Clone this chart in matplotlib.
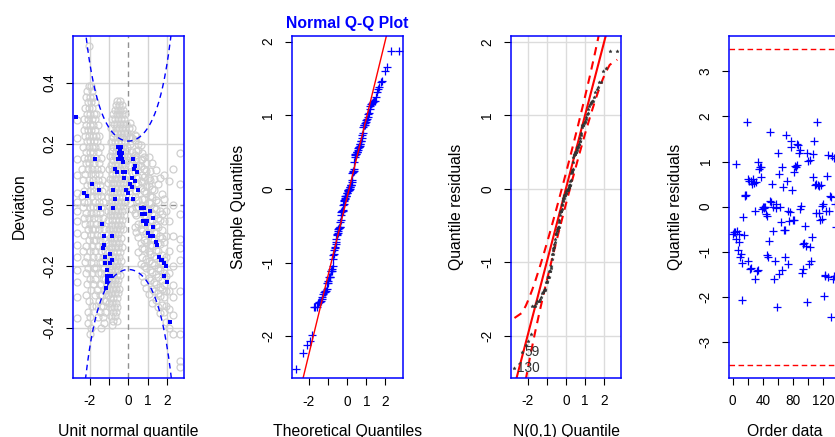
import matplotlib
matplotlib.use('Agg')
import matplotlib.pyplot as plt
import numpy as np
from statistics import NormalDist

plt.rcParams['font.family'] = ['Liberation Sans', 'DejaVu Sans']
plt.rcParams['axes.unicode_minus'] = False

W, H = 835, 437
TICK_FS = 9.8
LAB_FS = 11.3

residuals = [
    -0.60, -0.57, -0.55, 0.95, -0.72, -0.53, -0.95, -0.61, -0.79, -1.12,
    -1.05, -2.07, -1.25, -0.22, -0.62, 0.23, 0.25, 0.27, 1.87, -1.20,
    0.61, 0.57, -1.38, 0.57, -1.36, 0.50, 0.61, 0.53, -0.09, -1.60,
    0.55, -1.42, -1.40, 0.98, 0.84, 0.87, 0.87, 0.65, -0.05, 0.00,
    -0.02, -0.01, 0.00, -0.17, -1.08, -0.20, -1.12, -0.75, 1.65, 0.12,
    0.10, 0.50, -0.01, -0.53, -1.60, -1.20, 0.05, -0.03, -2.22, 1.20,
    0.73, -1.50, -0.01, -0.35, -1.40, 0.87, 0.43, -0.52, -1.12, -0.52,
    1.60, 0.58, -1.27, -0.09, -0.31, -0.12, 1.32, 1.45, 0.36, -0.30,
    -0.30, 0.76, 0.91, 0.89, 0.93, 1.39, 1.36, 1.20, 1.25, -0.05,
    0.02, -1.47, -1.38, -0.83, -0.80, -0.42, -0.88, -2.12, 1.18, 1.02,
    -1.27, 1.03, -0.89, -1.20, -0.68, 0.65, 1.17, 1.46, 0.47, -0.15,
    0.50, 1.87, 0.48, 0.46, -0.13, -0.30, 0.47, -0.28, 0.02, 0.05,
    -1.98, -1.53, -1.52, -0.10, 0.69, -1.55, 1.15, -0.09, 0.24, -2.44,
    0.22, 1.13, -1.60, 1.09, -1.53, 0.05, -0.45,
]

# worm plot, highlighted realisation (blue)
worm_blue = [
    (-2.70, 0.29), (-2.33, 0.04), (-2.15, 0.03), (-1.89, 0.07), (-1.72, 0.15),
    (-1.55, 0.05), (-1.46, -0.01), (-1.37, -0.06), (-1.29, -0.10), (-1.29, -0.13),
    (-1.34, -0.14), (-1.20, -0.17), (-1.24, -0.19), (-1.12, -0.21), (-1.09, -0.23),
    (-1.09, -0.25), (-1.12, -0.24), (-1.14, -0.27),
    (-0.86, -0.10), (-0.95, -0.16), (-0.86, -0.18), (-0.98, -0.19), (-0.91, -0.23),
    (-0.81, -0.01), (-0.78, 0.05), (-0.72, 0.02), (-0.69, 0.12), (-0.60, 0.11),
    (-0.26, 0.11), (-0.17, 0.11), (-0.52, 0.19), (-0.43, 0.18), (-0.47, 0.17),
    (-0.39, 0.16), (-0.34, 0.15), (-0.52, 0.15), (-0.29, 0.14), (-0.45, 0.16),
    (-0.41, 0.19), (-0.36, 0.17), (-0.22, 0.09), (-0.12, 0.05), (-0.05, 0.02),
    (0.26, 0.15), (0.34, 0.13), (0.30, 0.12), (0.43, 0.11), (0.17, 0.09),
    (0.34, 0.08), (0.09, 0.07), (0.17, 0.06), (0.52, 0.05), (0.00, 0.04),
    (0.26, 0.02), (0.64, -0.01), (0.78, -0.01), (0.69, -0.03), (0.86, -0.03),
    (0.74, -0.05), (0.98, -0.05), (0.91, -0.06), (1.12, -0.02), (1.29, -0.04),
    (1.29, -0.07), (1.03, -0.09), (1.12, -0.10), (1.26, -0.10), (1.43, -0.12),
    (1.50, -0.13), (1.60, -0.17), (1.67, -0.18), (1.73, -0.18), (1.84, -0.19),
    (1.95, -0.20), (1.86, -0.23), (1.98, -0.25), (2.15, -0.38),
]

# worm plot, the other realisations (grey circles)
# left blob: rows of (deviation, [quantiles])
gray_left_rows = [
    (0.520, [-2.07]),
    (0.390, [-2.06, -1.96]),
    (0.372, [-2.14, -1.90]),
    (0.354, [-2.02, -1.83, -2.20]),
    (0.336, [-1.95, -2.11, -1.76]),
    (0.318, [-2.25, -1.88, -2.04]),
    (0.300, [-1.80, -1.98, -2.16, -1.66]),
    (0.282, [-2.08, -1.90, -2.30, -1.72]),
    (0.264, [-1.84, -2.00, -2.19, -1.60]),
    (0.246, [-1.94, -1.76, -2.33, -2.10]),
    (0.228, [-1.67, -1.86, -2.04, -2.24, -1.53]),
    (0.210, [-1.98, -1.80, -2.14, -1.61]),
    (0.192, [-1.72, -2.37, -1.90, -2.07, -1.48]),
    (0.174, [-1.84, -2.00, -1.58, -2.22]),
    (0.156, [-1.66, -2.12, -1.94, -1.44, -2.32]),
    (0.138, [-1.78, -1.55, -2.03, -2.20]),
    (0.120, [-1.88, -1.64, -2.40, -1.42, -2.10]),
    (0.102, [-1.73, -1.96, -1.52, -2.27]),
    (0.084, [-2.05, -1.60, -1.84, -1.38, -2.36]),
    (0.066, [-1.70, -1.92, -1.47, -2.16]),
    (0.048, [-1.80, -2.28, -1.56, -1.36, -2.02]),
    (0.030, [-1.64, -1.90, -2.42, -1.44]),
    (0.012, [-2.10, -1.74, -1.52, -1.33, -2.30]),
    (-0.006, [-1.84, -1.62, -2.00, -1.40, -2.38]),
    (-0.024, [-1.70, -2.20, -1.48, -1.92]),
    (-0.042, [-1.58, -1.80, -1.30, -2.06, -2.33]),
    (-0.060, [-1.66, -1.44, -1.98, -2.24]),
    (-0.078, [-1.88, -1.53, -1.27, -2.12, -1.74]),
    (-0.096, [-1.62, -1.40, -2.30, -1.96]),
    (-0.114, [-1.48, -1.80, -1.24, -2.05, -1.68]),
    (-0.132, [-1.56, -1.34, -1.90, -2.22]),
    (-0.150, [-1.72, -1.44, -1.20, -2.00, -2.36]),
    (-0.168, [-1.60, -1.30, -1.84, -2.14]),
    (-0.186, [-1.38, -1.50, -1.17, -1.95, -2.26]),
    (-0.204, [-1.66, -1.26, -1.80, -2.08]),
    (-0.222, [-1.44, -1.14, -1.56, -1.90, -2.20]),
    (-0.240, [-1.33, -1.72, -1.22, -2.02]),
    (-0.258, [-1.50, -1.11, -1.40, -1.84, -2.14]),
    (-0.276, [-1.28, -1.62, -1.18, -1.96]),
    (-0.294, [-1.45, -1.08, -1.36, -1.76, -2.22]),
    (-0.312, [-1.24, -1.55, -1.14, -2.04]),
    (-0.330, [-1.40, -1.30, -1.70, -1.88]),
    (-0.348, [-1.20, -1.50, -2.12]),
    (-0.366, [-1.34, -1.60, -1.98]),
    (-0.384, [-1.26, -2.08]),
    (-0.402, [-1.42, -1.96]),
    (-0.420, [-2.02]),
]
# central column: rows of (deviation, [quantiles])
gray_mid_rows = [
    (0.342, [-0.58, -0.44]),
    (0.327, [-0.66, -0.50, -0.36]),
    (0.312, [-0.72, -0.55, -0.42, -0.27]),
    (0.297, [-0.62, -0.78, -0.47, -0.33, -0.18]),
    (0.282, [-0.70, -0.54, -0.39, -0.23, -0.84]),
    (0.267, [-0.60, -0.45, -0.76, -0.29, -0.12]),
    (0.252, [-0.66, -0.88, -0.50, -0.35, -0.19, 0.02]),
    (0.237, [-0.57, -0.73, -0.41, -0.25, -0.08]),
    (0.222, [-0.82, -0.62, -0.46, -0.31, -0.14, 0.06]),
    (0.207, [-0.70, -0.53, -0.92, -0.37, -0.20]),
    (0.192, [-0.60, -0.78, -0.43, -0.26, -0.05]),
    (0.177, [-0.86, -0.66, -0.50, -0.33, -0.15]),
    (0.162, [-0.72, -0.56, -0.95, -0.40, -0.22, -0.02]),
    (0.147, [-0.62, -0.80, -0.46, -0.29, -0.10]),
    (0.132, [-0.90, -0.68, -0.52, -0.36, -0.18]),
    (0.117, [-0.76, -0.58, -1.00, -0.42, -0.25]),
    (0.102, [-0.64, -0.84, -0.48, -0.31, -0.12]),
    (0.087, [-0.94, -0.72, -0.55, -0.38, -0.20]),
    (0.072, [-0.80, -0.62, -1.04, -0.45, -0.27]),
    (0.057, [-0.68, -0.88, -0.52, -0.34, -0.15]),
    (0.042, [-0.98, -0.76, -0.59, -0.42, -0.24]),
    (0.027, [-0.84, -0.66, -1.06, -0.49, -0.31]),
    (0.012, [-0.72, -0.92, -0.55, -0.38, -0.20]),
    (-0.003, [-1.02, -0.80, -0.62, -0.45, -0.28]),
    (-0.018, [-0.88, -0.69, -0.52, -1.08, -0.35]),
    (-0.033, [-0.76, -0.96, -0.58, -0.42, -0.24]),
    (-0.048, [-1.04, -0.84, -0.65, -0.48, -0.31]),
    (-0.063, [-0.91, -0.72, -0.55, -0.38]),
    (-0.078, [-1.00, -0.80, -0.62, -0.45, -0.28]),
    (-0.093, [-0.87, -0.68, -0.52, -1.08]),
    (-0.108, [-0.95, -0.76, -0.58, -0.40]),
    (-0.123, [-1.04, -0.84, -0.65, -0.48]),
    (-0.138, [-0.91, -0.72, -0.55, -0.36]),
    (-0.153, [-0.99, -0.80, -0.62, -0.44]),
    (-0.168, [-0.87, -1.07, -0.68, -0.50]),
    (-0.183, [-0.94, -0.76, -0.58, -0.40]),
    (-0.198, [-1.02, -0.83, -0.64, -0.48]),
    (-0.213, [-0.90, -0.71, -0.55]),
    (-0.228, [-0.98, -0.79, -0.61, -0.44]),
    (-0.243, [-1.06, -0.86, -0.68, -0.52]),
    (-0.258, [-0.93, -0.74, -0.58]),
    (-0.273, [-1.00, -0.82, -0.64, -0.47]),
    (-0.288, [-0.89, -0.70, -0.54]),
    (-0.303, [-0.96, -0.78, -0.61]),
    (-0.318, [-0.86, -0.67, -1.02]),
    (-0.333, [-0.92, -0.74, -0.57]),
    (-0.348, [-0.82, -0.64]),
    (-0.363, [-0.88, -0.71]),
    (-0.378, [-0.79, -0.62]),
    (-0.393, [-0.84]),
]
# outer columns and the falling band on the right: (quantile, [deviations])
gray_cols = [
    (-2.68, [0.28, 0.22, 0.15, 0.10, 0.04, 0.01, -0.02, -0.05, -0.09, -0.13,
             -0.17, -0.21, -0.25, -0.30, -0.37]),
    (0.08, [0.268, 0.224, 0.201, 0.158, 0.133, 0.082, 0.061, 0.009]),
    (0.19, [0.251, 0.219, 0.174, 0.152, 0.104, 0.081, 0.027, -0.011]),
    (0.33, [0.229, 0.212, 0.163, 0.128, 0.109, 0.049, 0.028, -0.026, -0.071]),
    (0.41, [0.226, 0.179, 0.151, 0.124, 0.072, 0.047, -0.006, -0.031, -0.088]),
    (0.52, [0.201, 0.181, 0.133, 0.094, 0.071, 0.018, -0.007, -0.061, -0.104, -0.152]),
    (0.63, [0.197, 0.149, 0.128, 0.079, 0.056, 0.001, -0.024, -0.078, -0.124, -0.191]),
    (0.71, [0.171, 0.152, 0.098, 0.075, 0.022, -0.003, -0.057, -0.084, -0.141, -0.169, -0.232]),
    (0.83, [0.158, 0.117, 0.094, 0.046, 0.021, -0.033, -0.058, -0.114, -0.143, -0.198, -0.251]),
    (0.92, [0.139, 0.113, 0.064, 0.041, -0.012, -0.036, -0.091, -0.119, -0.176, -0.204, -0.271]),
    (1.04, [0.158, 0.088, 0.062, 0.011, -0.014, -0.068, -0.095, -0.151, -0.181, -0.237, -0.289]),
    (1.13, [0.111, 0.083, 0.031, 0.006, -0.047, -0.074, -0.129, -0.158, -0.212, -0.243]),
    (1.22, [0.137, 0.054, 0.027, -0.026, -0.053, -0.107, -0.134, -0.189, -0.218, -0.274, -0.318]),
    (1.34, [0.087, 0.049, -0.008, -0.033, -0.086, -0.112, -0.167, -0.196, -0.251, -0.281]),
    (1.43, [0.116, 0.018, -0.011, -0.064, -0.091, -0.146, -0.172, -0.226, -0.257, -0.309]),
    (1.52, [0.071, 0.012, -0.043, -0.071, -0.124, -0.151, -0.205, -0.236, -0.288, -0.331]),
    (1.63, [0.089, -0.018, -0.049, -0.102, -0.128, -0.183, -0.212, -0.266, -0.297, -0.352]),
    (1.72, [0.038, -0.027, -0.081, -0.108, -0.161, -0.191, -0.244, -0.273, -0.327]),
    (1.84, [0.10, 0.02, -0.05, -0.12, -0.18, -0.22, -0.26, -0.30, -0.35]),
    (1.95, [-0.02, -0.10, -0.17, -0.23, -0.28, -0.33, -0.38]),
    (2.09, [0.08, -0.05, -0.15, -0.22, -0.28, -0.34, -0.40]),
    (2.29, [0.12, 0.00, -0.10, -0.20, -0.26, -0.30, -0.36, -0.42]),
    (2.68, [0.17, 0.07, -0.03, -0.11, -0.14, -0.18, -0.28, -0.42, -0.51, -0.53]),
]

x_ticks_q = [-2, -1, 0, 1, 2]
x_ticklabels_q = ['-2', '', '0', '1', '2']
dev_ticks = [-0.4, -0.2, 0.0, 0.2, 0.4]
dev_ticklabels = ['-0.4', '-0.2', '0.0', '0.2', '0.4']
qq_ticks = [-2, -1, 0, 1, 2]
order_ticks = [0, 20, 40, 60, 80, 100, 120, 140]
order_ticklabels = ['0', '', '40', '', '80', '', '120', '']
res_ticks = [-3, -2, -1, 0, 1, 2, 3]


def px_rect(left, top, width, height):
    return [left / W, 1 - (top + height) / H, width / W, height / H]


def r_style(ax):
    for s in ax.spines.values():
        s.set_color('blue')
        s.set_linewidth(1.1)
    ax.tick_params(direction='out', length=5, width=0.8, color='black',
                   labelsize=TICK_FS, pad=7)


def axis_labels(ax, xlab, ylab):
    bb = ax.get_position()
    cx = bb.x0 + bb.width / 2
    fig.text(cx, 1.0 / H, xlab, ha='center', va='baseline', fontsize=LAB_FS)
    fig.text(bb.x0 - 49.5 / W, bb.y0 + bb.height / 2, ylab, rotation=90,
             rotation_mode='anchor', ha='center', va='baseline', fontsize=LAB_FS)


n = len(residuals)
nd = NormalDist()
theo = np.array([nd.inv_cdf((i - 0.5) / n) for i in range(1, n + 1)])
samp = np.sort(residuals)
pq = (np.arange(1, n + 1) - 0.5) / n

fig = plt.figure(figsize=(W / 100, H / 100), dpi=100)

# ---- panel 1 : worm plot
ax1 = fig.add_axes(px_rect(73.3, 35.5, 110.7, 342))
r_style(ax1)
for v in [-2, -1, 1, 2]:
    ax1.axvline(v, color='#D3D3D3', lw=1, zorder=0)
for v in [-0.4, -0.2, 0.2, 0.4]:
    ax1.axhline(v, color='#D3D3D3', lw=1, zorder=0)
ax1.axvline(0, color='#909090', lw=1, ls=(0, (4, 3)), zorder=0)
ax1.axhline(0, color='#909090', lw=1, ls=(0, (4, 3)), zorder=0)

gx, gy = [], []
for y, xs in gray_left_rows + gray_mid_rows:
    gx += xs
    gy += [y] * len(xs)
for x, ys in gray_cols:
    gx += [x] * len(ys)
    gy += ys
ax1.plot(gx, gy, 'o', mfc='none', mec='#CFCFCF', ms=5.0, mew=0.9, zorder=1)
bx, by = zip(*worm_blue)
ax1.plot(bx, by, 's', color='blue', ms=2.2, mew=0, zorder=3)

zz = np.linspace(-3, 3, 241)
pp = np.array([nd.cdf(v) for v in zz])
band = 1.96 * np.sqrt(pp * (1 - pp) / n) / np.array([nd.pdf(v) for v in zz])
ax1.plot(zz, band, color='blue', lw=1, ls=(0, (4, 3)), zorder=2)
ax1.plot(zz, -band, color='blue', lw=1, ls=(0, (4, 3)), zorder=2)
ax1.set_xlim(-2.86, 2.88)
ax1.set_ylim(-0.563, 0.555)
ax1.set_xticks(x_ticks_q, labels=x_ticklabels_q)
ax1.set_yticks(dev_ticks, labels=dev_ticklabels, rotation=90, va='center')
axis_labels(ax1, 'Unit normal quantile', 'Deviation')

# ---- panel 2 : normal QQ plot with qqline
ax2 = fig.add_axes(px_rect(292, 35.7, 110.7, 342.6))
r_style(ax2)
q1, q3 = np.quantile(residuals, [0.25, 0.75])
slope = (q3 - q1) / (nd.inv_cdf(0.75) - nd.inv_cdf(0.25))
inter = q1 - slope * nd.inv_cdf(0.25)
ax2.plot(theo, samp, '+', color='blue', ms=6, mew=0.9)
ax2.axline((0, inter), slope=slope, color='red', lw=1)
ax2.set_xlim(-2.88, 2.9)
ax2.set_ylim(-2.57, 2.08)
ax2.set_xticks(x_ticks_q, labels=x_ticklabels_q)
ax2.set_yticks(qq_ticks, labels=[str(t) for t in qq_ticks], rotation=90, va='center')
axis_labels(ax2, 'Theoretical Quantiles', 'Sample Quantiles')
bb = ax2.get_position()
fig.text(bb.x0 + bb.width / 2, 1 - 28.3 / H, 'Normal Q-Q Plot', ha='center',
         va='baseline', color='blue', fontsize=11.3, fontweight='bold')

# ---- panel 3 : QQ plot against N(0,1) with 95% envelope
ax3 = fig.add_axes(px_rect(510.7, 36, 110.7, 341.7))
r_style(ax3)
for v in qq_ticks:
    ax3.axvline(v, color='#DCDCDC', lw=1, zorder=0)
    ax3.axhline(v, color='#DCDCDC', lw=1, zorder=0)
se = np.sqrt(pq * (1 - pq) / n) / np.array([nd.pdf(v) for v in theo])
ax3.plot(theo, samp, '*', color='#333333', ms=2.5, mew=0.3, zorder=3)
ax3.axline((0, 0), slope=1, color='red', lw=1.5, zorder=2)
ax3.plot(theo, theo + 1.96 * se, color='red', lw=1.5, ls=(0, (4, 3)), zorder=2)
ax3.plot(theo, theo - 1.96 * se, color='red', lw=1.5, ls=(0, (4, 3)), zorder=2)
order = np.argsort(residuals)
for rank in [0, 1]:
    ax3.annotate(str(order[rank] + 1), (theo[rank], samp[rank]), xytext=(2, 0),
                 textcoords='offset points', ha='left', va='center', fontsize=TICK_FS,
                 color='#333333')
ax3.set_xlim(-2.88, 2.9)
ax3.set_ylim(-2.57, 2.08)
ax3.set_xticks(x_ticks_q, labels=x_ticklabels_q)
ax3.set_yticks(qq_ticks, labels=[str(t) for t in qq_ticks], rotation=90, va='center')
axis_labels(ax3, 'N(0,1) Quantile', 'Quantile residuals')

# ---- panel 4 : residuals against order
ax4 = fig.add_axes(px_rect(729.3, 35.7, 110.7, 342))
r_style(ax4)
ax4.plot(np.arange(1, n + 1), residuals, '+', color='blue', ms=6, mew=0.9)
ax4.axhline(3.5, color='red', lw=1, ls=(0, (4, 2.5)))
ax4.axhline(-3.5, color='red', lw=1, ls=(0, (4, 2.5)))
ax4.set_xlim(-4.44, 142.44)
ax4.set_ylim(-3.79, 3.79)
ax4.set_xticks(order_ticks, labels=order_ticklabels)
ax4.set_yticks(res_ticks, labels=[str(t) for t in res_ticks], rotation=90, va='center')
axis_labels(ax4, 'Order data', 'Quantile residuals')

fig.savefig('out.png', dpi=100)
